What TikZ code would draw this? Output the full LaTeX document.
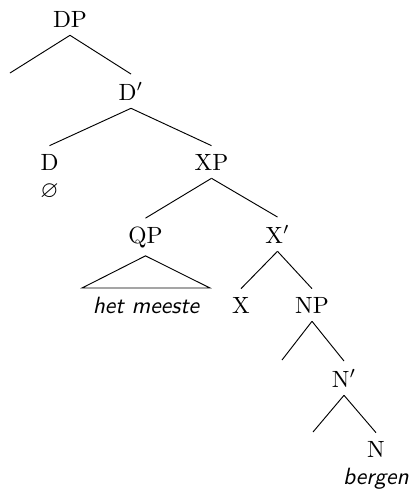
\documentclass[tikz,border=0pt]{standalone}
\usepackage{amssymb}
\begin{document}
\begin{tikzpicture}[x=0.4255pt,y=-0.4255pt,
  lbl/.style={anchor=base, inner sep=3.33pt},
  leaf/.style={anchor=base, inner sep=3.33pt, font=\sffamily\itshape},
  edge/.style={line width=0.4pt}]
\useasboundingbox (0,0) rectangle (412,490);
% nodes
\node[lbl] (DP) at (70,27) {DP};
\coordinate (e1) at (10,73);
\node[lbl] (Db) at (131,100) {D$'$};
\node[lbl] (D) at (49.5,170) {D};
\node[anchor=center, inner sep=0pt] (null) at (49.5,191.5) {$\varnothing$};
\node[lbl] (XP) at (211.5,170) {XP};
\node[lbl] (QP) at (145.5,243) {QP};
\node[lbl] (Xb) at (277.5,243) {X$'$};
\node[leaf] (hm) at (146,313) {het meeste};
\coordinate (tl) at (82,288);
\coordinate (tr) at (210,288);
\node[lbl] (X) at (241,313) {X};
\node[lbl] (NP) at (312,313) {NP};
\coordinate (e2) at (282,360);
\node[lbl] (Nb) at (344,387) {N$'$};
\coordinate (e3) at (313,432);
\node[lbl] (N) at (376,457) {N};
\node[leaf] (berg) at (376,484) {bergen};
% edges
\draw[edge] (DP.south) -- (e1);
\draw[edge] (DP.south) -- (Db.north);
\draw[edge] (Db.south) -- (D.north);
\draw[edge] (Db.south) -- (XP.north);
\draw[edge] (XP.south) -- (QP.north);
\draw[edge] (XP.south) -- (Xb.north);
\draw[edge] (QP.south) -- (tl) -- (tr) -- cycle;
\draw[edge] (Xb.south) -- (X.north);
\draw[edge] (Xb.south) -- (NP.north);
\draw[edge] (NP.south) -- (e2);
\draw[edge] (NP.south) -- (Nb.north);
\draw[edge] (Nb.south) -- (e3);
\draw[edge] (Nb.south) -- (N.north);
\end{tikzpicture}
\end{document}
